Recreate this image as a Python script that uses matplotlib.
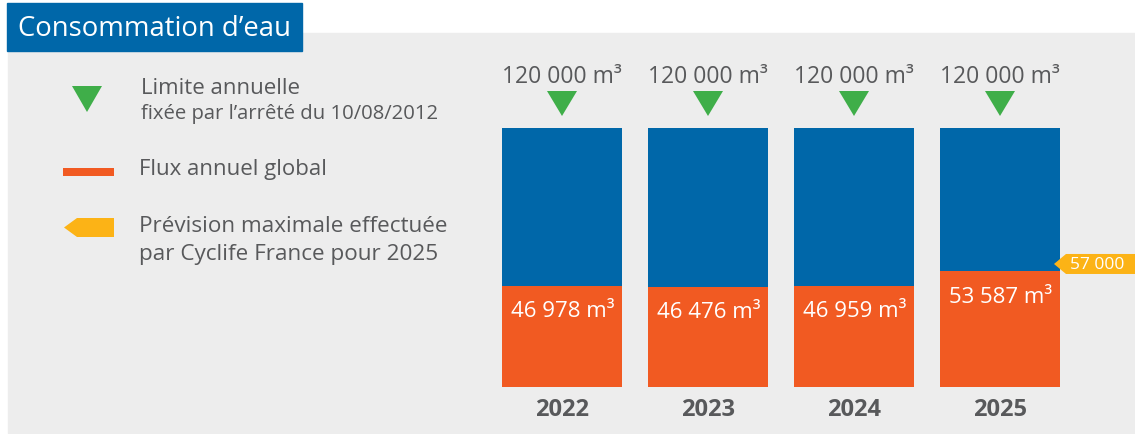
import matplotlib
matplotlib.use("Agg")
import matplotlib.pyplot as plt
from matplotlib.patches import Rectangle, Polygon
from matplotlib.transforms import IdentityTransform, ScaledTranslation

plt.rcParams['font.family'] = ['Open Sans', 'DejaVu Sans']

# ---- data ----
years = ["2022", "2023", "2024", "2025"]
annual_limit = [120000, 120000, 120000, 120000]
annual_flux = [46978, 46476, 46959, 53587]
forecast_2025 = 57000

title = "Consommation d\u2019eau"
legend_limit = ["Limite annuelle", "fix\u00e9e par l\u2019arr\u00eat\u00e9 du 10/08/2012"]
legend_flux = "Flux annuel global"
legend_forecast = ["Pr\u00e9vision maximale effectu\u00e9e", "par Cyclife France pour 2025"]

# ---- style ----
BLUE = "#0067A9"
ORANGE = "#F15A22"
GREEN = "#3FAE49"
YELLOW = "#FCB316"
BG = "#EDEDED"
TXT = "#58595B"

W, H, DPI = 1135, 435, 100
fig = plt.figure(figsize=(W / DPI, H / DPI), dpi=DPI, facecolor="white")


def fx(px):
    return px / W


def fy(py):
    return 1 - py / H


# background panel and title box
fig.patches.append(Rectangle((fx(8), fy(434)), fx(1135 - 8), (434 - 34) / H,
                             transform=fig.transFigure, color=BG, zorder=-2))
fig.patches.append(Rectangle((fx(7), fy(52)), fx(302 - 7), (52 - 4) / H,
                             transform=fig.transFigure, color=BLUE, zorder=-1))
fig.text(fx(18), fy(29), title, color="white", fontsize=19.8,
         va="center", ha="left")

# ---- legend ----
def px_poly(pts, **kw):
    verts = [(fx(x), fy(y)) for x, y in pts]
    fig.patches.append(Polygon(verts, closed=True, transform=fig.transFigure, **kw))


px_poly([(72, 87), (102, 87), (87, 113)], color=GREEN, lw=0)
fig.text(fx(141), fy(88), legend_limit[0], color=TXT, fontsize=16, va="center")
fig.text(fx(141), fy(114), legend_limit[1], color=TXT, fontsize=14.6, va="center")

fig.patches.append(Rectangle((fx(63), fy(177)), fx(51), 8 / H,
                             transform=fig.transFigure, color=ORANGE, lw=0))
fig.text(fx(139), fy(170), legend_flux, color=TXT, fontsize=16, va="center")

px_poly([(64, 228.5), (77, 219), (114, 219), (114, 238), (77, 238)],
        color=YELLOW, lw=0)
fig.text(fx(139), fy(227), legend_forecast[0], color=TXT, fontsize=16.2, va="center")
fig.text(fx(139), fy(255), legend_forecast[1], color=TXT, fontsize=16.2, va="center")

# ---- bars ----
ax = fig.add_axes([fx(489), fy(388), fx(1073 - 489), (388 - 129) / H])
ax.set_xlim(-0.5, 3.5)
ax.set_ylim(0, 120000)
ax.axis("off")

x = list(range(len(years)))
bw = 120 / 146
ax.bar(x, annual_limit, width=bw, color=BLUE, zorder=2)
ax.bar(x, annual_flux, width=bw, color=ORANGE, zorder=3)


def fmt(v):
    return f"{v:,}".replace(",", " ")


for i, (lim, flux, yr) in enumerate(zip(annual_limit, annual_flux, years)):
    # limit marker above each bar
    tr = IdentityTransform() + ScaledTranslation(i, lim, ax.transData)
    ax.add_patch(Polygon([(-15, 37), (15, 37), (0, 12)], closed=True,
                         transform=tr, color=GREEN, lw=0, clip_on=False))
    ax.annotate(f"{fmt(lim)} m\u00b3", (i, lim), xytext=(0, 52),
                textcoords="offset pixels", ha="center", va="center",
                fontsize=16.5, color=TXT, annotation_clip=False)
    # flux value inside the orange bar
    ax.annotate(f"{fmt(flux)} m\u00b3", (i, flux), xytext=(1, -25),
                textcoords="offset pixels", ha="center", va="center",
                fontsize=16, color="white", zorder=5, annotation_clip=False)
    # year label
    ax.annotate(yr, (i, 0), xytext=(0, -22), textcoords="offset pixels",
                ha="center", va="center", fontsize=17, fontweight="bold",
                color=TXT, annotation_clip=False)

# forecast tag on the right of the last bar
xr = x[-1] + bw / 2
tr = IdentityTransform() + ScaledTranslation(xr, forecast_2025, ax.transData)
ax.add_patch(Polygon([(-6, 0), (6, 10), (80, 10), (80, -10), (6, -10)],
                     closed=True, transform=tr, color=YELLOW, lw=0,
                     clip_on=False, zorder=6))
ax.annotate(fmt(forecast_2025), (xr, forecast_2025), xytext=(37, 0),
            textcoords="offset pixels", ha="center", va="center",
            fontsize=12.5, color="white", zorder=7, annotation_clip=False)

fig.savefig("out.png", dpi=DPI, facecolor="white")
